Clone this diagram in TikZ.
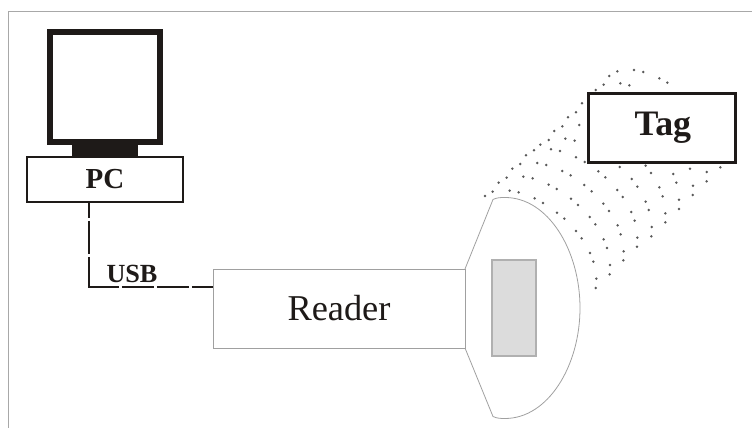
\documentclass[tikz,border=0pt]{standalone}
\usepackage{fontspec}
\setmainfont{Liberation Serif}
\definecolor{framegray}{HTML}{A8A8A8}
\definecolor{headgray}{HTML}{A0A0A0}
\definecolor{coilfill}{HTML}{DCDCDC}
\definecolor{coilline}{HTML}{B0B0B0}
\definecolor{inkblack}{HTML}{1E1A18}
\tikzset{
  pcbox/.style={draw=inkblack,line width=0.9pt,fill=white,minimum width=3.12cm,minimum height=0.9cm,inner sep=0pt,font=\fontsize{16.5}{18}\selectfont\bfseries,text=inkblack},
  readerbox/.style={draw=headgray,line width=0.45pt,fill=white,minimum width=5.04cm,minimum height=1.58cm,inner sep=0pt,font=\fontsize{20.7}{24}\selectfont,text=inkblack},
  tagbox/.style={draw=inkblack,line width=1.7pt,fill=white,minimum width=2.95cm,minimum height=1.38cm,inner sep=0pt,font=\fontsize{20.4}{22}\selectfont\bfseries,text=inkblack},
  usbline/.style={draw=inkblack,line width=1.3pt,dash pattern=on 9.1pt off 1.7pt on 18.8pt off 1.7pt on 34.1pt off 1.7pt on 18.2pt off 1.7pt on 18.2pt off 1.7pt on 30pt},
  fieldspot/.style={fill=black!65,draw=none,circle,minimum size=1.6pt,inner sep=0pt}
}
\begin{document}
\begin{tikzpicture}[x=0.02cm,y=-0.02cm]
\useasboundingbox[fill=white] (0,0) rectangle (752,428);
% Frame
\draw[framegray,line width=0.5pt] (8,428) -- (8,11.5) -- (752,11.5);
% Monitor
\draw[inkblack,line width=3.4pt] (50,32) rectangle (160,142);
\fill[inkblack] (72,145) rectangle (138,157);
% PC
\node[pcbox] (pc) at (105,179.5) {\raisebox{0.85pt}{PC}};
% Reader
\draw[headgray,line width=0.45pt] (465,269) -- (493,199.5) .. controls (497,197.5) and (501,197.5) .. (505,197.5)
  .. controls (548,197.5) and (580,250) .. (580,308) .. controls (580,366) and (548,418.5) .. (505,418.5)
  .. controls (501,418.5) and (497,418.5) .. (493,416.5) -- (465,348);
\node[readerbox] (reader) at (339,308.5) {\raisebox{-0.85pt}{Reader}};
\draw[coilline,fill=coilfill,line width=0.6pt] (492,260) rectangle (536,356);
% USB
\coordinate (usbstart) at (89,202);
\coordinate (usbend) at (213,287);
\draw[usbline] (usbstart) |- (usbend);
\node[font=\fontsize{14.9}{16}\selectfont\bfseries,text=inkblack,inner sep=0pt] (usb) at (132,274) {USB};
% Field
\foreach \zx/\zy in {472/64,522/60,550/66,598/85,622/98,448/78,431/104,481/100,508/106,407/120,
  366/160,348/187,324/202,358/225,307/229,283/243,266/270,316/266,344/272,241/284,222/301,273/298,
  300/303,198/316,181/342,232/339,259/345,348/322,374/336,157/356,140/383,190/380,218/385,116/398,
  98/425,75/438,149/422,176/427,224/445,249/459,307/363,332/376,266/404,290/417,333/446,354/465,
  291/488,313/506,348/543,365/565,373/405,395/424,415/364,436/382,479/351,557/347,573/369,515/387,
  532/410,472/420,488/441,430/461,447/483,389/501,406/523,557/455,566/480,514/486,524/512,473/526,
  482/553,431/568,441/594,390/609,400/635,409/686,407/714,449/673,450/645,491/604,490/631,532/563,
  531/590,575/531,574/559,616/490,616/517,657/449,657/477,699/407,698/435,740/366,740/394,781/352,
  690/356,640/372,649/398,598/412,608/439}
  \node[fieldspot] at ({460+\zx/3},{50+\zy/3}) {};
% Tag
\node[tagbox] (tag) at (662,128) {\hspace{1pt}Tag};
\end{tikzpicture}
\end{document}
